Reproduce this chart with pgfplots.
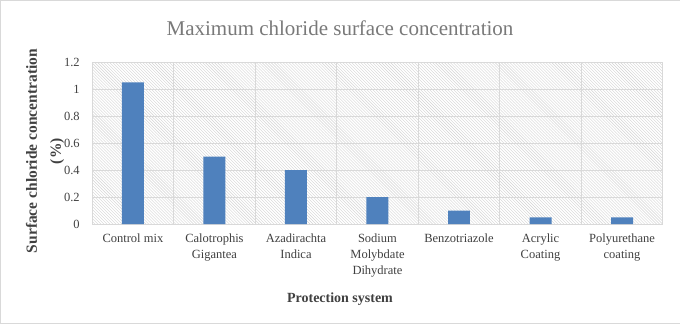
\documentclass[border=0pt]{standalone}
\usepackage{pgfplots}
\pgfplotsset{compat=1.18}
\usepackage{fontspec}
\setmainfont{Liberation Serif}
\usetikzlibrary{patterns}
\definecolor{barblue}{HTML}{4F81BD}
\definecolor{txt}{HTML}{404040}
\definecolor{gridc}{HTML}{D9D9D9}
\begin{document}
\begin{tikzpicture}
\draw[gridc] (-92bp,-99bp) rectangle (588bp,224bp);
\begin{axis}[
  at={(0,0)}, anchor=south west,
  scale only axis,
  width=571bp, height=162bp,
  xmin=-0.5, xmax=6.5,
  ymin=0, ymax=1.2,
  ytick={0,0.2,...,1.2},
  yticklabels={0,0.2,0.4,0.6,0.8,1,1.2},
  xtick={0,1,2,3,4,5,6},
  xticklabels={Control mix, Calotrophis\\Gigantea, Azadirachta\\Indica, Sodium\\Molybdate\\Dihydrate, Benzotriazole, Acrylic\\Coating, Polyurethane\\coating},
  minor xtick={-0.5,0.5,...,6.5},
  xminorgrids=true,
  ymajorgrids=true,
  major grid style={gridc, line width=0.8pt},
  minor grid style={gridc, line width=0.8pt},
  axis line style={gridc, line width=0.8pt},
  major tick length=0pt, minor tick length=0pt,
  tick style={draw=none},
  axis background/.style={pattern=north west lines, pattern color=gray!35},
  /pgf/number format/assume math mode=true,
  ticklabel style={font=\fontsize{12.5bp}{16bp}\selectfont, text=txt},
  xticklabel style={align=center, anchor=north, yshift=-6bp},
  yticklabel style={xshift=-9bp},
]
\addplot[ybar, bar width=22bp, fill=barblue, draw=none] coordinates {
  (0,1.05) (1,0.50) (2,0.40) (3,0.20) (4,0.10) (5,0.05) (6,0.05)
};
\end{axis}
\node[text=gray!95!black, font=\fontsize{21bp}{24bp}\selectfont] at (248bp,196bp) {Maximum chloride surface concentration};
\node[text=txt, font=\bfseries\fontsize{15.5bp}{24bp}\selectfont, rotate=90, align=center] at (-47bp,73bp) {Surface chloride concentration\\(\%)};
\node[text=txt, font=\bfseries\fontsize{14bp}{16bp}\selectfont] at (248bp,-75bp) {Protection system};
\end{tikzpicture}
\end{document}
